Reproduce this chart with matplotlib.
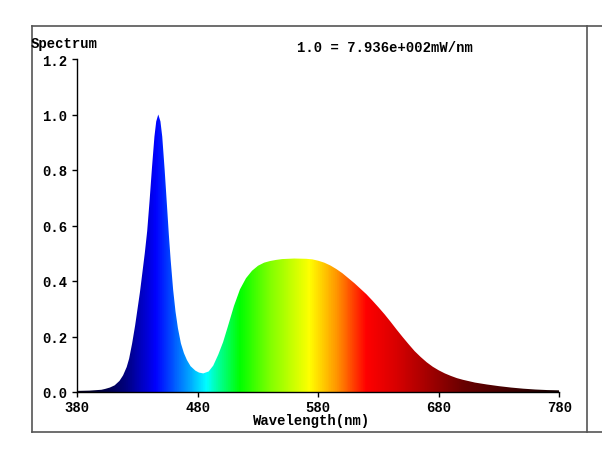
import numpy as np
import matplotlib
matplotlib.use('Agg')
import matplotlib.pyplot as plt
from matplotlib.colors import LinearSegmentedColormap
from matplotlib.patches import Polygon
from matplotlib.lines import Line2D

# ---- data ----
wavelength = [380, 390, 400, 403, 407, 411, 415, 418, 421, 423, 425.5, 428, 430, 432,
              434, 436, 438, 440, 442, 444, 445.5, 447.2, 449, 450.5, 452.5, 454.3,
              456, 457.5, 459.5, 461.5, 463.5, 466, 468.5, 471, 474, 478, 481, 484.5,
              489, 492.8, 497, 501, 505, 510, 515, 520, 525, 530, 535, 540, 545, 550,
              560, 570, 575, 580, 585, 590, 595, 600, 605, 610, 615, 620, 625, 630,
              635, 640, 645, 650, 655, 660, 665, 670, 675, 680, 685, 690, 695, 700,
              710, 720, 730, 740, 750, 760, 770, 780]
intensity = [0.004, 0.005, 0.008, 0.011, 0.016, 0.024, 0.04, 0.06, 0.09, 0.12, 0.175,
             0.24, 0.30, 0.36, 0.43, 0.50, 0.58, 0.69, 0.81, 0.92, 0.975, 1.0, 0.975,
             0.92, 0.80, 0.68, 0.565, 0.475, 0.37, 0.29, 0.23, 0.175, 0.14, 0.115,
             0.093, 0.077, 0.07, 0.067, 0.074, 0.095, 0.135, 0.18, 0.237, 0.31, 0.37,
             0.41, 0.437, 0.455, 0.466, 0.472, 0.476, 0.479, 0.481, 0.48, 0.478, 0.473,
             0.466, 0.456, 0.443, 0.428, 0.41, 0.392, 0.372, 0.352, 0.329, 0.305, 0.28,
             0.253, 0.225, 0.198, 0.172, 0.147, 0.126, 0.107, 0.091, 0.078, 0.067,
             0.058, 0.05, 0.044, 0.034, 0.027, 0.021, 0.016, 0.012, 0.009, 0.007, 0.006]

x_ticks = [380, 480, 580, 680, 780]
y_ticks = [0.0, 0.2, 0.4, 0.6, 0.8, 1.0, 1.2]
y_tick_labels = ['0.0', '0.2', '0.4', '0.6', '0.8', '1.0', '1.2']

# spectral colour stops (nm -> rgb)
color_nm = [380, 405, 420, 435, 445, 460, 475, 487, 500, 515, 540, 573, 595, 620, 645, 700, 780]
color_rgb = [(0.02, 0.0, 0.10), (0.0, 0.0, 0.30), (0.0, 0.0, 0.50), (0.0, 0.0, 0.80),
             (0.0, 0.0, 1.0), (0.0, 0.35, 1.0), (0.0, 0.70, 1.0), (0.0, 1.0, 1.0),
             (0.0, 1.0, 0.5), (0.0, 1.0, 0.0), (0.5, 1.0, 0.0), (1.0, 1.0, 0.0),
             (1.0, 0.6, 0.0), (1.0, 0.0, 0.0), (0.85, 0.0, 0.0), (0.42, 0.0, 0.0),
             (0.08, 0.0, 0.0)]

W, H = 602, 452
fig = plt.figure(figsize=(W / 100, H / 100), dpi=100)
fig.patch.set_facecolor('white')

ax_l, ax_r, ax_b, ax_t = 77.3, 559.3, 393.0, 60.0
ax = fig.add_axes([ax_l / W, (H - ax_b) / H, (ax_r - ax_l) / W, (ax_b - ax_t) / H])
ax.set_xlim(380, 780)
ax.set_ylim(0, 1.2)

# gradient fill clipped to the spectrum shape
cmap = LinearSegmentedColormap.from_list(
    'spec', list(zip([(w - 380) / 400 for w in color_nm], color_rgb)))
cols = np.linspace(0, 1, 1000)
img = ax.imshow(cmap(cols)[None, :, :], extent=[380, 780, 0, 1.2], aspect='auto',
                origin='lower', interpolation='bilinear', zorder=1)
verts = [(wavelength[0], 0)] + list(zip(wavelength, intensity)) + [(wavelength[-1], 0)]
patch = Polygon(verts, closed=True, facecolor='none', edgecolor='none',
                transform=ax.transData)
ax.add_patch(patch)
img.set_clip_path(patch)

font = dict(family=['Liberation Mono', 'DejaVu Sans Mono'], weight='bold', size=10)

ax.spines['top'].set_visible(False)
ax.spines['right'].set_visible(False)
ax.spines['left'].set_linewidth(1.0)
ax.spines['bottom'].set_linewidth(1.0)
ax.set_xticks(x_ticks)
ax.set_xticklabels([str(t) for t in x_ticks], fontdict=font)
ax.set_yticks(y_ticks)
ax.set_yticklabels(y_tick_labels, fontdict=font)
ax.tick_params(axis='x', direction='out', length=3.5, width=1, pad=2.5, colors='black')
ax.tick_params(axis='y', direction='out', length=3.5, width=1, pad=3.5, colors='black')

fig.text(312 / W, 1 - 421 / H, 'Wavelength(nm)', ha='center', va='center', **font)
fig.text(31 / W, 1 - 44.3 / H, 'Spectrum', ha='left', va='center', **font)
fig.text(297 / W, 1 - 48.3 / H, '1.0 = 7.936e+002mW/nm', ha='left', va='center', **font)

# outer panel frame
fc = '#555555'
lw = 1.2
def fline(x0, y0, x1, y1):
    fig.add_artist(Line2D([x0 / W, x1 / W], [1 - y0 / H, 1 - y1 / H], color=fc, lw=lw))

fline(31.7, 27.3, 602, 27.3)
fline(31.7, 433, 602, 433)
fline(31.7, 27.3, 31.7, 433)
fline(586.7, 27.3, 586.7, 433)

fig.savefig('out.png', dpi=100)
